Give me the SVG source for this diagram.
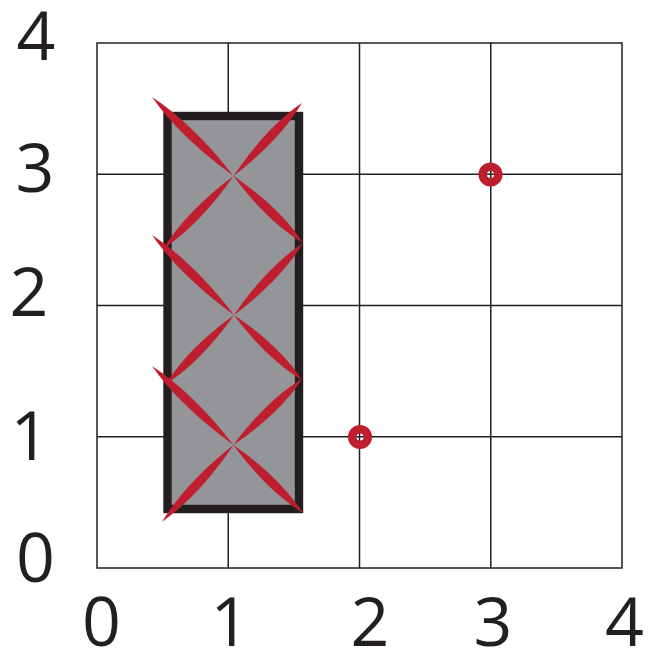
<svg xmlns="http://www.w3.org/2000/svg" width="653" height="650" viewBox="0 0 653 650">
  <style>
    .grid { stroke: #231f20; stroke-width: 1.5; fill: none; }
    .lbl { font-family: "Open Sans", "Liberation Sans", sans-serif; font-size: 68px; fill: #231f20; text-anchor: middle; }
    .box { fill: #939598; stroke: #231f20; stroke-width: 8.4; }
    .red { fill: #be1e2d; }
    .dot { fill: none; stroke: #be1e2d; stroke-width: 8.5; }
  </style>
  <defs>
    <path id="lens" d="M0,0 C38,-6.2 72,-6.2 100,0 C72,6.2 38,6.2 0,0 Z"/>
  </defs>
  <rect width="653" height="650" fill="#ffffff"/>
  <g id="grid">
    <rect class="grid" x="97" y="43" width="525" height="525"/>
    <line class="grid" x1="228.25" y1="43" x2="228.25" y2="568"/>
    <line class="grid" x1="359.5" y1="43" x2="359.5" y2="568"/>
    <line class="grid" x1="490.75" y1="43" x2="490.75" y2="568"/>
    <line class="grid" x1="97" y1="174.25" x2="622" y2="174.25"/>
    <line class="grid" x1="97" y1="305.5" x2="622" y2="305.5"/>
    <line class="grid" x1="97" y1="436.75" x2="622" y2="436.75"/>
  </g>
  <g id="y-labels">
    <text class="lbl" x="36" y="60">4</text>
    <text class="lbl" x="35" y="192">3</text>
    <text class="lbl" x="29" y="316">2</text>
    <text class="lbl" x="30" y="460">1</text>
    <text class="lbl" x="35.5" y="582">0</text>
  </g>
  <g id="x-labels">
    <text class="lbl" x="101.5" y="646">0</text>
    <text class="lbl" x="230" y="646">1</text>
    <text class="lbl" x="370" y="646">2</text>
    <text class="lbl" x="493" y="646">3</text>
    <text class="lbl" x="624.5" y="646">4</text>
  </g>
  <g id="rectangle">
    <rect class="box" x="167.5" y="116" width="131.5" height="393"/>
  </g>
  <g id="crosses" class="red">
    <g id="cross1">
      <use href="#lens" transform="translate(233.5,176) rotate(-135.9) scale(1.135,1)"/>
      <use href="#lens" transform="translate(233.5,176) rotate(43.95) scale(0.965,1)"/>
      <use href="#lens" transform="translate(233.5,176) rotate(-46.8) scale(1.0,1)"/>
      <use href="#lens" transform="translate(233.5,176) rotate(134.0) scale(1.015,1)"/>
    </g>
    <g id="cross2">
      <use href="#lens" transform="translate(234,315) rotate(-135.7) scale(1.146,1)"/>
      <use href="#lens" transform="translate(234,315) rotate(43.7) scale(0.941,1)"/>
      <use href="#lens" transform="translate(234,315) rotate(-46.2) scale(0.997,1)"/>
      <use href="#lens" transform="translate(234,315) rotate(134.6) scale(0.969,1)"/>
    </g>
    <g id="cross3">
      <use href="#lens" transform="translate(233.5,445) rotate(-135.9) scale(1.135,1)"/>
      <use href="#lens" transform="translate(233.5,445) rotate(44.4) scale(0.972,1)"/>
      <use href="#lens" transform="translate(233.5,445) rotate(-43.9) scale(0.951,1)"/>
      <use href="#lens" transform="translate(233.5,445) rotate(132.9) scale(1.051,1)"/>
    </g>
  </g>
  <g id="point-3-3">
    <circle class="dot" cx="490.5" cy="174.5" r="7.8"/>
  </g>
  <g id="point-2-1">
    <circle class="dot" cx="360" cy="437" r="7.8"/>
  </g>
</svg>
